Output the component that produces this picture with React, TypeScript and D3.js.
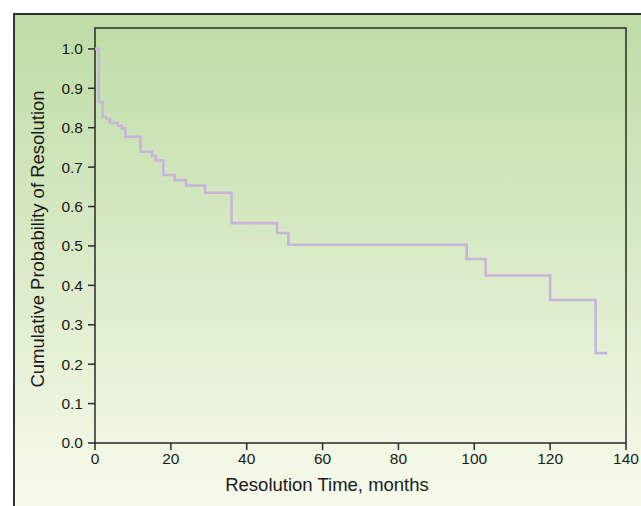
import * as d3 from "d3";
import React from "react";

// Kaplan-Meier style step curve
const times = [0, 1, 2, 3, 4, 6, 7, 8, 12, 15, 16, 18, 21, 24, 29, 36, 48, 51, 98, 103, 120, 132, 135];
const probs = [1.0, 0.865, 0.828, 0.822, 0.812, 0.805, 0.798, 0.777, 0.739, 0.728, 0.717, 0.68, 0.667, 0.653, 0.635, 0.558, 0.533, 0.503, 0.467, 0.425, 0.363, 0.228, 0.228];

const xTicks = [0, 20, 40, 60, 80, 100, 120, 140];
const yTicks = [0, 0.1, 0.2, 0.3, 0.4, 0.5, 0.6, 0.7, 0.8, 0.9, 1.0];

const xTitle = "Resolution Time, months";
const yTitle = "Cumulative Probability of Resolution";

const W = 641;
const H = 506;
const plot = { left: 95, right: 626, top: 28, bottom: 443 };

const x = d3.scaleLinear().domain([0, 140]).range([plot.left, plot.right]);
const y = d3.scaleLinear().domain([0, 1.053]).range([plot.bottom, plot.top]);

const font = "'Liberation Sans', Arial, Helvetica, sans-serif";

export default function App() {
  const pts = times.map((t, i) => [t, probs[i]] as [number, number]);
  const path = d3.line<[number, number]>()
    .x((d) => x(d[0]))
    .y((d) => y(d[1]))
    .curve(d3.curveStepAfter)(pts);

  return (
    <svg width={W} height={H} style={{ position: "absolute", left: 0, top: 0 }} fontFamily={font}>
      <defs>
        <linearGradient id="bg" x1="0" y1="0" x2="0" y2="1" gradientUnits="objectBoundingBox">
          <stop offset="0%" stopColor="#bedca6" />
          <stop offset="45%" stopColor="#d9eac6" />
          <stop offset="100%" stopColor="#fbfdf1" />
        </linearGradient>
      </defs>
      <rect x={0} y={0} width={W} height={H} fill="#ffffff" />
      {/* outer panel, runs off the right and bottom edges */}
      <rect x={14} y={14} width={W + 20} height={H + 20} fill="url(#bg)" stroke="#333" strokeWidth={2} />

      {/* plot box */}
      <rect x={plot.left} y={plot.top} width={plot.right - plot.left} height={plot.bottom - plot.top}
        fill="none" stroke="#2a2a2a" strokeWidth={1.5} />

      {/* y axis */}
      {yTicks.map((t) => (
        <g key={"y" + t}>
          <line x1={plot.left - 7} x2={plot.left} y1={y(t)} y2={y(t)} stroke="#2a2a2a" strokeWidth={1.5} />
          <text x={plot.left - 12} y={y(t)} dy="0.35em" textAnchor="end" fontSize={15.5} fill="#1a1a1a">
            {d3.format(".1f")(t)}
          </text>
        </g>
      ))}

      {/* x axis */}
      {xTicks.map((t) => (
        <g key={"x" + t}>
          <line x1={x(t)} x2={x(t)} y1={plot.bottom} y2={plot.bottom + 7} stroke="#2a2a2a" strokeWidth={1.5} />
          <text x={x(t)} y={plot.bottom + 21} textAnchor="middle" fontSize={15.5} fill="#1a1a1a">
            {t}
          </text>
        </g>
      ))}

      <text x={327} y={491} textAnchor="middle" fontSize={18.5} fill="#1a1a1a">{xTitle}</text>
      <text transform={`translate(44,${239}) rotate(-90)`} textAnchor="middle" fontSize={18.5} fill="#1a1a1a">
        {yTitle}
      </text>

      <path d={path || ""} fill="none" stroke="#c8b5dc" strokeWidth={2.6} />
    </svg>
  );
}
